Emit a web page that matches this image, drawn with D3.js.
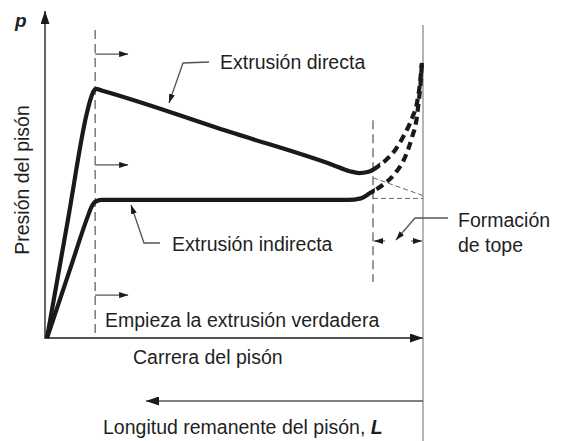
<!DOCTYPE html>
<html lang="es">
<head>
<meta charset="utf-8">
<style>
  body { margin: 0; background: #fff; }
  svg { display: block; }
  text { font-family: "Liberation Sans", Arial, sans-serif; fill: #1f1f1f; }
</style>
</head>
<body>
<svg width="561" height="441"></svg>
<script src="https://cdn.jsdelivr.net/npm/d3@7/dist/d3.min.js"></script>
<script>
// ram stroke (% of travel) vs ram pressure (relative units)
const directCurve = [[0,0],[5.6,38],[10.5,71.3],[11.5,76],[12.4,78.9],[13,79.6],[14.5,79.1],[50,65.3],[76,55.3],[80.5,53.3],[83,52.7],[85.5,53.1],[88,54.8],[90.5,57.3],[92.6,60.1],[94.7,64.2],[97.1,70.3],[98.4,75.1],[99.2,81.5],[99.7,87.9]];
const indirectCurve = [[0,0],[6,21.5],[10.8,38.7],[11.8,41.8],[12.8,43.5],[14.5,44.1],[50,44.1],[80,44.1],[83.5,44.6],[85.9,46.3],[89.4,49.0],[92.5,52.5],[95.3,58],[97.1,64.2],[98.3,70],[98.9,76],[99.4,82],[99.7,87.9]];
const directTrend = [[86.7,51.2],[100,45.5]];
const indirectTrend = [[86.7,44.6],[100,44.6]];
const solidUntil = [88.6, 87.2];       // where each curve turns dashed
const startStroke = 12.8;             // true extrusion begins
const topeStroke = 86.7;              // butt formation begins
const arrowRows = [90.7, 55.3, 13.7];  // "|->" marks on the start line

const svg = d3.select("svg");
const x = d3.scaleLinear().domain([0, 100]).range([47, 423]);
const y = d3.scaleLinear().domain([0, 100]).range([338, 25]);
const ink = "#1a1a1a";
const grey = "#555";

// arrow heads
const defs = svg.append("defs");
function marker(id, len, wid) {
    defs.append("marker").attr("id", id)
        .attr("viewBox", "0 0 10 10").attr("refX", 10).attr("refY", 5)
        .attr("markerUnits", "userSpaceOnUse")
        .attr("markerWidth", len).attr("markerHeight", wid)
        .attr("preserveAspectRatio", "none")
        .attr("orient", "auto-start-reverse")
        .append("path").attr("d", "M0,0L10,5L0,10Z").attr("fill", ink);
}
marker("big", 13, 9);
marker("small", 9, 6);

// clips for solid / dashed parts
solidUntil.forEach((s, i) => {
    defs.append("clipPath").attr("id", "solid" + i)
        .append("rect").attr("x", 0).attr("y", 0).attr("width", x(s)).attr("height", 441);
    defs.append("clipPath").attr("id", "dash" + i)
        .append("rect").attr("x", x(s)).attr("y", 0).attr("width", 561).attr("height", 441);
});

/* axes */
svg.append("line").attr("x1", 45).attr("y1", y(0) + 1).attr("x2", 45).attr("y2", 11)
    .attr("stroke", grey).attr("stroke-width", 1.8).attr("marker-end", "url(#big)");
svg.append("line").attr("x1", 45).attr("y1", y(0)).attr("x2", 423).attr("y2", y(0))
    .attr("stroke", grey).attr("stroke-width", 1.8).attr("marker-end", "url(#big)");
svg.append("line").attr("x1", x(100)).attr("y1", y(100)).attr("x2", x(100)).attr("y2", 441)
    .attr("stroke", "#777").attr("stroke-width", 1.1);
// remaining length arrow
svg.append("line").attr("x1", x(100)).attr("y1", 401).attr("x2", 146).attr("y2", 401)
    .attr("stroke", grey).attr("stroke-width", 1.4).attr("marker-end", "url(#big)");

/* guide lines */
svg.append("line").attr("x1", x(startStroke)).attr("x2", x(startStroke))
    .attr("y1", y(98.4)).attr("y2", y(0))
    .attr("stroke", grey).attr("stroke-width", 1.2).attr("stroke-dasharray", "9,5");
svg.append("line").attr("x1", x(topeStroke)).attr("x2", x(topeStroke))
    .attr("y1", y(69.6)).attr("y2", y(17.9))
    .attr("stroke", grey).attr("stroke-width", 1.2).attr("stroke-dasharray", "9,5");

arrowRows.forEach(r => {
    svg.append("line").attr("x1", x(startStroke)).attr("x2", x(startStroke) + 33)
        .attr("y1", y(r)).attr("y2", y(r))
        .attr("stroke", grey).attr("stroke-width", 1.4).attr("marker-end", "url(#small)");
});

const line = d3.line().x(d => x(d[0])).y(d => y(d[1]));
[directTrend, indirectTrend].forEach(t => {
    svg.append("path").attr("d", line(t)).attr("fill", "none")
        .attr("stroke", "#666").attr("stroke-width", 1).attr("stroke-dasharray", "5,3");
});

/* curves */
const curve = d3.line().x(d => x(d[0])).y(d => y(d[1])).curve(d3.curveMonotoneX);
[directCurve, indirectCurve].forEach((c, i) => {
    svg.append("path").attr("d", curve(c)).attr("fill", "none")
        .attr("stroke", ink).attr("stroke-width", 4.2).attr("stroke-linejoin", "round")
        .attr("clip-path", `url(#solid${i})`);
    svg.append("path").attr("d", curve(c)).attr("fill", "none")
        .attr("stroke", ink).attr("stroke-width", 4.2).attr("stroke-dasharray", "8,5")
        .attr("clip-path", `url(#dash${i})`);
});

/* leaders */
function leader(pts, head) {
    svg.append("path").attr("d", d3.line()(pts)).attr("fill", "none")
        .attr("stroke", grey).attr("stroke-width", 1.3)
        .attr("marker-end", head ? "url(#small)" : null);
}
leader([[209, 62], [183, 63], [169, 103]], true);
leader([[160, 243], [144, 243], [131, 205]], true);
leader([[448, 218], [415, 218], [396, 240]], true);
// butt formation span
svg.append("line").attr("x1", x(topeStroke) + 12).attr("x2", x(topeStroke) + 1)
    .attr("y1", 241).attr("y2", 241).attr("stroke", grey).attr("stroke-width", 1.2)
    .attr("marker-end", "url(#small)");
svg.append("line").attr("x1", x(100) - 12).attr("x2", x(100) - 1)
    .attr("y1", 241).attr("y2", 241).attr("stroke", grey).attr("stroke-width", 1.2)
    .attr("marker-end", "url(#small)");

/* text */
const fs = 19.5;
function label(t, tx, ty) {
    return svg.append("text").attr("x", tx).attr("y", ty).attr("font-size", fs).text(t);
}
label("Extrusión directa", 220, 69);
label("Extrusión indirecta", 172, 251);
label("Empieza la extrusión verdadera", 105, 327);
label("Carrera del pisón", 133, 364);
label("Formación", 458, 227);
label("de tope", 458, 252);
const lg = label("Longitud remanente del pisón, ", 103, 434);
lg.append("tspan").attr("font-style", "italic").attr("font-weight", "bold").text("L");
svg.append("text").attr("transform", "translate(29,180) rotate(-90)")
    .attr("text-anchor", "middle").attr("font-size", fs).text("Presión del pisón");
svg.append("text").attr("x", 15).attr("y", 27).attr("font-size", 19)
    .attr("font-style", "italic").attr("font-weight", "bold").text("p");
</script>
</body>
</html>
